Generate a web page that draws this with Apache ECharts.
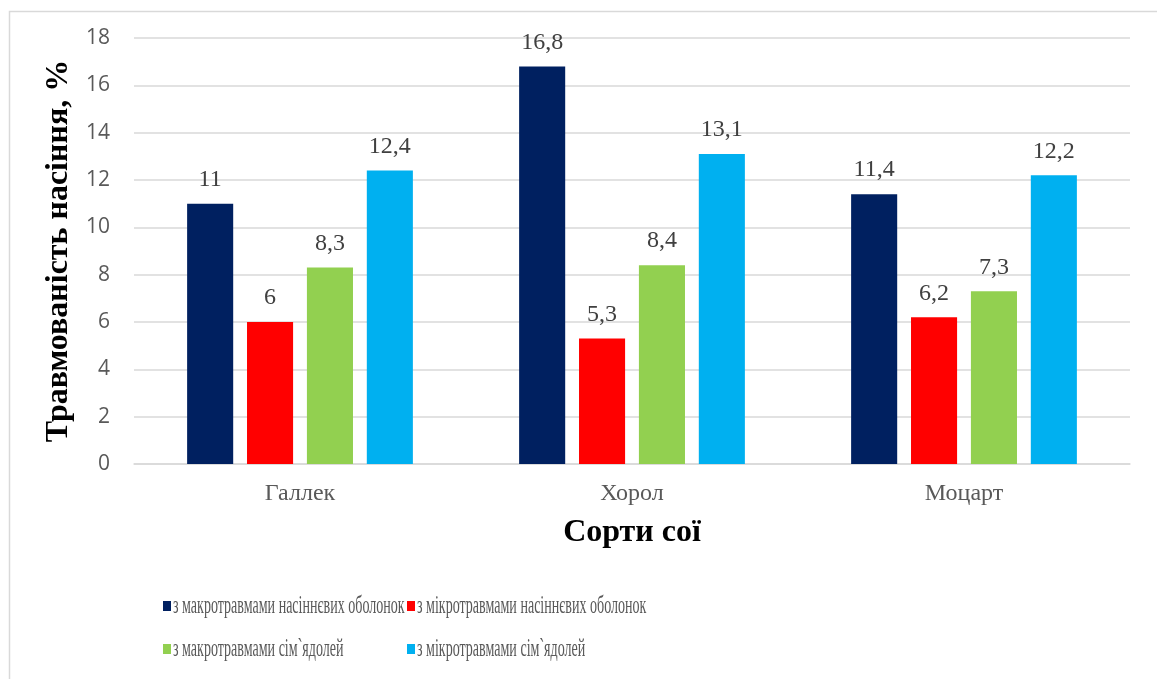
<!DOCTYPE html>
<html><head><meta charset="utf-8">
<script src="https://cdn.jsdelivr.net/npm/echarts@6/dist/echarts.min.js"></script>
<style>html,body{margin:0;padding:0;background:#fff}#c{width:1157px;height:679px}</style>
</head><body><div id="c"></div>
<script>
const categories = ['Галлек', 'Хорол', 'Моцарт'];
const seriesNames = ['з макротравмами насіннєвих оболонок', 'з мікротравмами насіннєвих оболонок', 'з макротравмами сім`ядолей', 'з мікротравмами сім`ядолей'];
const macroShell = [11, 16.8, 11.4];
const microShell = [6, 5.3, 6.2];
const macroCotyl = [8.3, 8.4, 7.3];
const microCotyl = [12.4, 13.1, 12.2];
const colors = ['#002060', '#ff0000', '#92d050', '#00b0f0'];
const yTicks = {min: 0, max: 18, interval: 2};

const values = [macroShell, microShell, macroCotyl, microCotyl];
const serif = '"Liberation Serif", "Times New Roman", serif';
const chart = echarts.init(document.getElementById('c'), null, {renderer: 'canvas'});
const legendPos = [[163, 606], [407, 606], [163, 649], [407, 649]];

const graphics = [{type: 'rect', left: 7, top: 9, shape: {width: 1170, height: 700}, style: {fill: 'none', stroke: '#d9d9d9', lineWidth: 1.5}, silent: true}];
seriesNames.forEach((n, i) => {
  graphics.push({
    type: 'text', x: legendPos[i][0] + 10, y: legendPos[i][1], scaleX: 0.54, silent: true,
    style: {text: n, font: '26px ' + serif, fill: '#595959', verticalAlign: 'middle', textVerticalAlign: 'middle'}
  });
});

chart.setOption({
  backgroundColor: '#fff',
  animation: false,
  graphic: graphics,
  grid: {left: 134, right: 27, top: 38, bottom: 215},
  legend: seriesNames.map((n, i) => ({
    data: [n], left: legendPos[i][0], top: legendPos[i][1] - 5, padding: 0, icon: 'rect', itemWidth: 8, itemHeight: 10, itemGap: 0,
    formatter: () => '', textStyle: {fontSize: 10, padding: 0}
  })),
  xAxis: {
    type: 'category', data: categories,
    name: 'Сорти сої', nameLocation: 'middle', nameGap: 53,
    nameTextStyle: {fontFamily: serif, fontSize: 32, fontWeight: 'bold', color: '#000'},
    axisLine: {show: true, lineStyle: {color: '#d9d9d9', width: 1.5}},
    axisTick: {show: false},
    axisLabel: {fontFamily: serif, fontSize: 24, color: '#595959', margin: 18}
  },
  yAxis: {
    type: 'value', min: yTicks.min, max: yTicks.max, interval: yTicks.interval,
    name: 'Травмованість насіння, %', nameLocation: 'middle', nameGap: 58,
    nameTextStyle: {fontFamily: serif, fontSize: 32, fontWeight: 'bold', color: '#000'},
    axisLine: {show: false}, axisTick: {show: false},
    axisLabel: {fontFamily: '"Open Sans", "Noto Sans", sans-serif', fontSize: 21, color: '#595959', margin: 24},
    splitLine: {lineStyle: {color: '#d9d9d9', width: 1.5}}
  },
  series: seriesNames.map((n, i) => ({
    name: n, type: 'bar', data: values[i],
    barGap: '30%', barCategoryGap: '32%',
    itemStyle: {color: colors[i]},
    label: {show: true, position: 'top', distance: 12, fontFamily: serif, fontSize: 24, color: '#404040',
      formatter: p => String(p.value).replace('.', ',')}
  }))
});
</script></body></html>
